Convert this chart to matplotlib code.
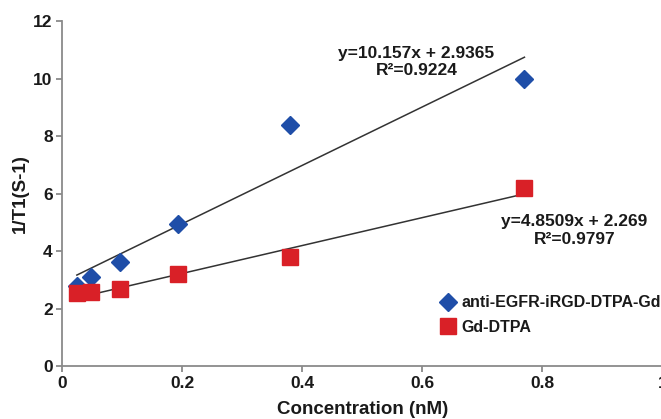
import matplotlib
matplotlib.use("Agg")
import matplotlib.pyplot as plt
import numpy as np

plt.rcParams['font.family'] = ['Liberation Sans', 'DejaVu Sans']
plt.rcParams['font.weight'] = 'bold'

conc = [0.024, 0.048, 0.096, 0.192, 0.38, 0.77]
conj = [2.8, 3.1, 3.65, 4.95, 8.4, 10.0]
gd = [2.55, 2.6, 2.7, 3.2, 3.8, 6.2]
fit_conj = (10.157, 2.9365)
fit_gd = (4.8509, 2.269)
labels = ['anti-EGFR-iRGD-DTPA-Gd', 'Gd-DTPA']
xticks = [0, 0.2, 0.4, 0.6, 0.8, 1]
xticklabels = ['0', '0.2', '0.4', '0.6', '0.8', '1']
yticks = [0, 2, 4, 6, 8, 10, 12]

fig = plt.figure(figsize=(6.61, 4.19), dpi=100)
ax = fig.add_axes([0.0945, 0.1253, 0.9077, 0.8234])

xs = np.array([conc[0], conc[-1]])
ax.plot(xs, fit_conj[0] * xs + fit_conj[1], color='#333333', lw=1.1, zorder=2)
ax.plot(xs, fit_gd[0] * xs + fit_gd[1], color='#333333', lw=1.1, zorder=2)

ax.plot(conc, conj, linestyle='none', marker='D', markersize=9,
        color='#1f4ea8', label=labels[0], zorder=3)
ax.plot(conc, gd, linestyle='none', marker='s', markersize=11,
        color='#d92027', label=labels[1], zorder=3)

ax.set_xlim(0, 1)
ax.set_ylim(0, 12)
ax.set_xticks(xticks)
ax.set_xticklabels(xticklabels)
ax.set_yticks(yticks)
for s in ['top', 'right']:
    ax.spines[s].set_visible(False)
for s in ['left', 'bottom']:
    ax.spines[s].set_color('#8a8a8a')
    ax.spines[s].set_linewidth(1.3)
ax.tick_params(axis='both', colors='#8a8a8a', labelcolor='#1a1a1a',
               labelsize=12.5, length=4, width=1.3, pad=3)
for t in ax.get_xticklabels() + ax.get_yticklabels():
    t.set_fontweight('bold')

ax.set_xlabel('Concentration (nM)', fontsize=13.5, fontweight='bold',
              color='#1a1a1a', labelpad=7)
ax.set_ylabel('1/T1(S-1)', fontsize=13.5, fontweight='bold',
              color='#1a1a1a', labelpad=3)

ax.text(0.59, 10.59, 'y=10.157x + 2.9365\nR\u00b2=0.9224', ha='center',
        va='center', fontsize=12.5, fontweight='bold', color='#1a1a1a',
        linespacing=1.2)
ax.text(0.853, 4.73, 'y=4.8509x + 2.269\nR\u00b2=0.9797', ha='center',
        va='center', fontsize=12.5, fontweight='bold', color='#1a1a1a',
        linespacing=1.2)

leg = ax.legend(loc='center left', bbox_to_anchor=(0.629, 0.149), frameon=False,
                fontsize=11.5, handletextpad=0.35, labelspacing=0.6,
                handlelength=1.0, borderaxespad=0, borderpad=0)
for t in leg.get_texts():
    t.set_fontweight('bold')
    t.set_color('#1a1a1a')

fig.savefig('out.png', dpi=100)
